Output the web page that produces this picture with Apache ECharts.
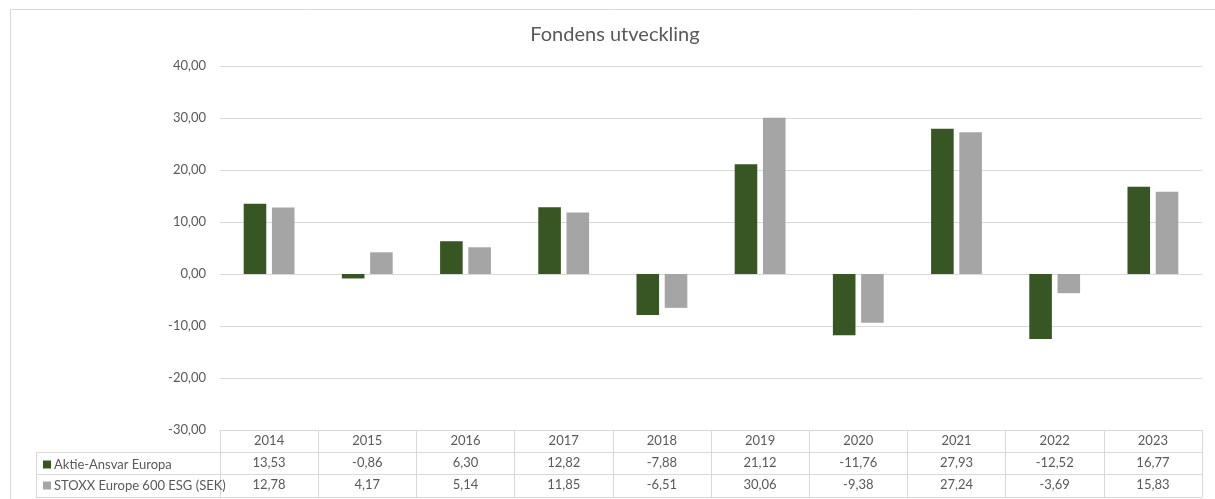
<!DOCTYPE html>
<html><head><meta charset="utf-8">
<script src="https://cdn.jsdelivr.net/npm/echarts@6/dist/echarts.min.js"></script>
<style>html,body{margin:0;padding:0;background:#fff}#c{width:1215px;height:499px}</style>
</head><body><div id="c"></div>
<script>
const categories = ['2014','2015','2016','2017','2018','2019','2020','2021','2022','2023'];
const fundValues = [13.53,-0.86,6.30,12.82,-7.88,21.12,-11.76,27.93,-12.52,16.77];
const indexValues = [12.78,4.17,5.14,11.85,-6.51,30.06,-9.38,27.24,-3.69,15.83];
const seriesNames = ['Aktie-Ansvar Europa','STOXX Europe 600 ESG (SEK)'];
const yTicks = {min:-30, max:40, interval:10};

const fmt = v => Number(v).toFixed(2).replace('.', ',');
const FONT = 'Lato';
const TXT = '#595959';
const LINE = '#d9d9d9';
const gl = 220, gr = 13, gt = 66, gb = 69;
const rowH = 22;

const chart = echarts.init(document.getElementById('c'));
const tableAxis = (data, offset, showLabel) => ({
  type:'category', data, position:'bottom', offset,
  axisLine:{show:true, onZero:false, lineStyle:{color:LINE, width:1}},
  axisTick:{show:false},
  axisLabel:{show:showLabel, color:TXT, fontFamily:FONT, fontSize:13, margin:4, interval:0},
  splitLine:{show:false}
});
chart.setOption({
  animation:false,
  grid:{left:gl, right:gr, top:gt, bottom:gb, containLabel:false},
  legend:{
    orient:'vertical', left:38, top:453, itemWidth:8, itemHeight:8, itemGap:8,
    icon:'rect', selectedMode:false,
    textStyle:{color:TXT, fontFamily:FONT, fontSize:13, padding:[0,0,0,-2]},
    data:seriesNames
  },
  xAxis:[
    {
      type:'category', data:categories, position:'bottom',
      axisLine:{show:true, onZero:false, lineStyle:{color:LINE}},
      axisTick:{show:true, length:rowH*3+1, lineStyle:{color:LINE}},
      axisLabel:{color:TXT, fontFamily:FONT, fontSize:13, margin:4, interval:0},
      splitLine:{show:false}
    },
    tableAxis(fundValues.map(fmt), rowH, true),
    tableAxis(indexValues.map(fmt), rowH*2, true),
    tableAxis(categories, rowH*3+1, false)
  ],
  yAxis:{
    type:'value', min:yTicks.min, max:yTicks.max, interval:yTicks.interval,
    axisLine:{show:false}, axisTick:{show:false},
    axisLabel:{color:TXT, fontFamily:FONT, fontSize:13, margin:14, formatter:fmt},
    splitLine:{lineStyle:{color:LINE, width:1}}
  },
  series:[
    {name:seriesNames[0], type:'bar', data:fundValues, barWidth:'23%', barGap:'25%',
     itemStyle:{color:'#375623'}},
    {name:seriesNames[1], type:'bar', data:indexValues, barWidth:'23%', barGap:'25%',
     itemStyle:{color:'#a5a5a5'}}
  ],
  graphic:[
    {type:'rect', shape:{x:10.5, y:9.5, width:1230, height:520}, style:{fill:null, stroke:LINE, lineWidth:1}, silent:true},
    {type:'text', x:615, y:35, style:{text:'Fondens utveckling', fill:TXT, font:'20px '+FONT, align:'center', verticalAlign:'middle'}},
    {type:'line', shape:{x1:36, y1:452.5, x2:gl, y2:452.5}, style:{stroke:LINE}},
    {type:'line', shape:{x1:36, y1:474.5, x2:gl, y2:474.5}, style:{stroke:LINE}},
    {type:'line', shape:{x1:36, y1:497.5, x2:gl, y2:497.5}, style:{stroke:LINE}},
    {type:'line', shape:{x1:36.5, y1:452, x2:36.5, y2:497}, style:{stroke:LINE}}
  ]
});
</script></body></html>
